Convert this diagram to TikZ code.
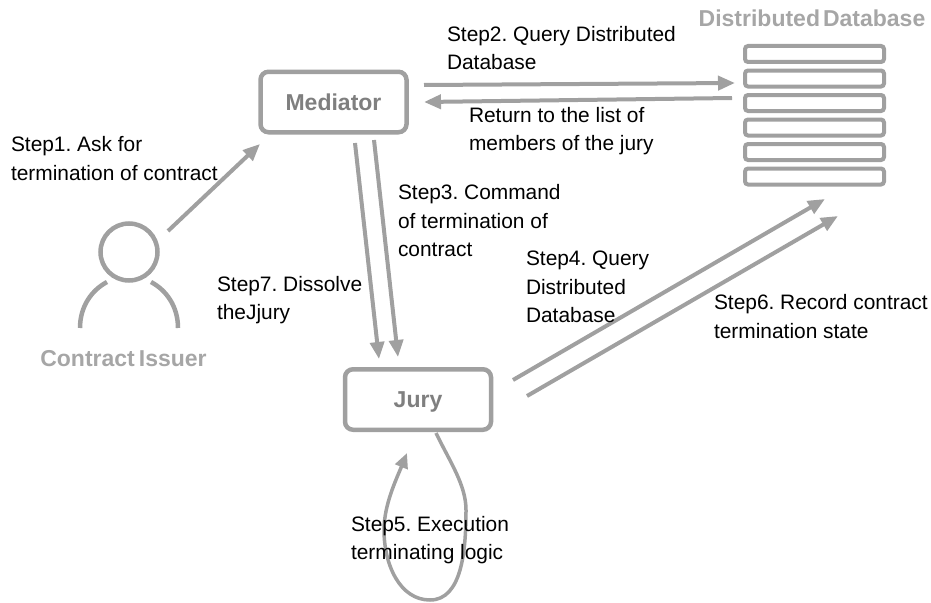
\documentclass[tikz,border=0pt]{standalone}
\usepackage{fontspec}
\setmainfont{Liberation Sans}
\usetikzlibrary{arrows.meta}
\definecolor{ln}{HTML}{A0A0A0}
\definecolor{boxtxt}{HTML}{7F7F7F}
\definecolor{lighttxt}{HTML}{A6A6A6}
\tikzset{
  x=1pt,y=-1pt,
  lbl/.style={inner sep=0pt,outer sep=0pt,anchor=north west,align=left,text=black,font=\fontsize{20.9}{28.6}\selectfont\frenchspacing},
  boxn/.style={draw=ln,line width=4.5pt,rounded corners=8pt,fill=white,inner sep=0pt,text=boxtxt,text height=16pt,text depth=0pt,font=\bfseries\fontsize{23}{25}\selectfont},
  rowb/.style={draw=ln,line width=4pt,rounded corners=3pt,fill=white,minimum width=139pt,minimum height=16pt,inner sep=0pt},
  arr/.style={draw=ln,line width=4pt,-{Triangle[length=17pt,width=14pt]},shorten >=0pt},
  captxt/.style={inner sep=0pt,text=lighttxt,text height=16pt,text depth=0pt,font=\bfseries\fontsize{23}{25}\selectfont},
}
\begin{document}
\begin{tikzpicture}
\useasboundingbox (0,0) rectangle (931,602);
\node[boxn,minimum width=146pt,minimum height=60.5pt] (med) at (333.5,102) {Mediator};
\node[boxn,minimum width=146pt,minimum height=60.5pt] (jury) at (418,399.5) {Jury};
\foreach \n/\yy in {r1/54,r2/78.5,r3/103,r4/127.5,r5/152,r6/176.5}{
  \node[rowb] (\n) at (814.5,\yy) {};
}
\node[captxt] (dbcap) at (812,18.5) {\spaceskip=3pt Distributed Database};
\node[captxt] (issuer) at (123.5,358.5) {\spaceskip=4pt Contract Issuer};
\node[draw=ln,line width=4.5pt,circle,minimum size=57pt,inner sep=0pt] (head) at (129,252) {};
\coordinate (sl1) at (80,328); \coordinate (sl2) at (107,282);
\coordinate (sr1) at (178,328); \coordinate (sr2) at (151,282);
\draw[ln,line width=4.5pt] (sl1) .. controls (80,306) and (92,290) .. (sl2);
\draw[ln,line width=4.5pt] (sr1) .. controls (178,306) and (166,290) .. (sr2);
\coordinate (a1s) at (168,231); \coordinate (a1e) at (260,144);
\draw[arr] (a1s) -- (a1e);
\coordinate (a2s) at (355,143); \coordinate (a2e) at (379,359);
\draw[arr] (a2s) -- (a2e);
\coordinate (a3s) at (374,140); \coordinate (a3e) at (398,357);
\draw[arr] (a3s) -- (a3e);
\coordinate (a4s) at (424,85); \coordinate (a4e) at (735,83);
\draw[arr] (a4s) -- (a4e);
\coordinate (a5s) at (732,98); \coordinate (a5e) at (424,102);
\draw[arr] (a5s) -- (a5e);
\coordinate (a6s) at (513,380); \coordinate (a6e) at (825,199);
\draw[arr] (a6s) -- (a6e);
\coordinate (a7s) at (527,396); \coordinate (a7e) at (838,216);
\draw[arr] (a7s) -- (a7e);
\coordinate (l1) at (436,433); \coordinate (lb) at (430,600); \coordinate (l2) at (407,453);
\draw[draw=ln,line width=3.5pt,-{Triangle[length=15pt,width=13pt]}] (l1) .. controls (450,462) and (466,485) .. (466,510) .. controls (466,550) and (462,600) .. (lb) .. controls (400,600) and (384,565) .. (384,530) .. controls (384,505) and (396,480) .. (l2);
\node[lbl] (t1) at (11,136.5) {Step1. Ask for\\termination of contract};
\node[lbl] (t2) at (447,26) {Step2. Query Distributed\\Database};
\node[lbl] (t2b) at (469,107) {Return to the list of\\members of the jury};
\node[lbl] (t3) at (398,184.5) {Step3. Command\\of termination of\\contract};
\node[lbl] (t4) at (526,251) {Step4. Query\\Distributed\\Database};
\node[lbl] (t5) at (351,516) {Step5. Execution\\terminating logic};
\node[lbl] (t6) at (714,294.5) {Step6. Record contract\\termination state};
\node[lbl] (t7) at (217,276) {Step7. Dissolve\\theJjury};
\end{tikzpicture}
\end{document}
